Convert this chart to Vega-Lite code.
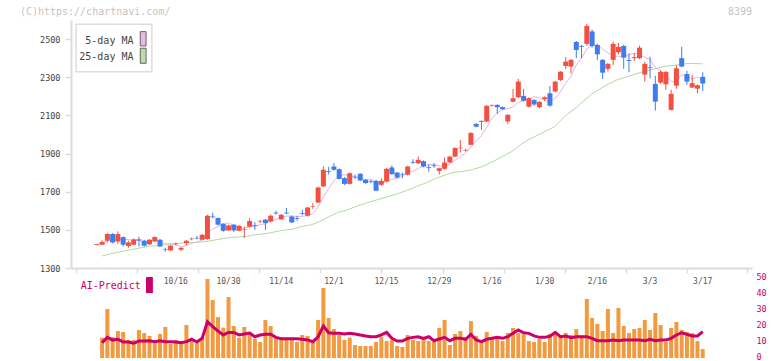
{
 "$schema": "https://vega.github.io/schema/vega-lite/v6.json",
 "autosize": {"type": "none"},
 "width": 681,
 "height": 338,
 "padding": {"left": 71, "top": 20, "right": 20, "bottom": 3},
 "background": "white",
 "config": {"view": {"stroke": null}, "font": "DejaVu Sans Mono"},
 "datasets": {
  "k": [
{"i":0,"o":1420,"h":1425,"l":1420,"c":1425},
{"i":1,"o":1422,"h":1446,"l":1422,"c":1436,"v":12.7,"ai":9.6,"m5":1427},
{"i":2,"o":1443,"h":1483,"l":1434,"c":1478,"v":30.6,"ai":12.9,"m5":1445},
{"i":3,"o":1478,"h":1483,"l":1429,"c":1434,"v":13.1,"ai":11.2,"m5":1448},
{"i":4,"o":1439,"h":1492,"l":1425,"c":1478,"v":16.9,"ai":11.7,"m5":1450},
{"i":5,"o":1462,"h":1466,"l":1413,"c":1422,"v":16.3,"ai":10,"m5":1450},
{"i":6,"o":1415,"h":1443,"l":1406,"c":1434,"v":11.3,"ai":10,"m5":1449},
{"i":7,"o":1422,"h":1455,"l":1420,"c":1450,"v":11.3,"ai":9.2,"m5":1444},
{"i":8,"o":1450,"h":1464,"l":1413,"c":1444,"v":17.5,"ai":10.6,"m5":1446},
{"i":9,"o":1443,"h":1448,"l":1413,"c":1417,"v":15.6,"ai":10.6,"m5":1433},
{"i":10,"o":1424,"h":1452,"l":1420,"c":1448,"v":13.8,"ai":10.8,"m5":1439},
{"i":11,"o":1440,"h":1466,"l":1436,"c":1462,"v":9.6,"ai":10.2,"m5":1444},
{"i":12,"o":1448,"h":1452,"l":1410,"c":1413,"v":15,"ai":10.8,"m5":1437},
{"i":13,"o":1399,"h":1406,"l":1385,"c":1396,"v":19.4,"ai":10.2,"m5":1427},
{"i":14,"o":1392,"h":1420,"l":1390,"c":1417,"v":8.8,"ai":10.2,"m5":1427},
{"i":15,"o":1425,"h":1434,"l":1418,"c":1428,"v":11.3,"ai":10,"m5":1423},
{"i":16,"o":1396,"h":1408,"l":1388,"c":1406,"v":10.2,"ai":9.6,"m5":1412},
{"i":17,"o":1431,"h":1446,"l":1420,"c":1443,"v":20.6,"ai":10.2,"m5":1418},
{"i":18,"o":1451,"h":1460,"l":1445,"c":1454,"v":11.3,"ai":11.7,"m5":1430},
{"i":19,"o":1458,"h":1468,"l":1450,"c":1455,"v":9.2,"ai":10,"m5":1437},
{"i":20,"o":1448,"h":1478,"l":1445,"c":1474,"v":12.7,"ai":12.3,"m5":1446},
{"i":21,"o":1452,"h":1578,"l":1448,"c":1574,"v":49.4,"ai":22.7,"m5":1480},
{"i":22,"o":1570,"h":1590,"l":1560,"c":1566,"v":36.3,"ai":19.6,"m5":1505},
{"i":23,"o":1562,"h":1565,"l":1524,"c":1527,"v":25.6,"ai":16.9,"m5":1519},
{"i":24,"o":1532,"h":1535,"l":1490,"c":1495,"v":19,"ai":14.4,"m5":1527},
{"i":25,"o":1497,"h":1527,"l":1494,"c":1523,"v":38.1,"ai":16,"m5":1537},
{"i":26,"o":1527,"h":1530,"l":1488,"c":1497,"v":20,"ai":16,"m5":1522},
{"i":27,"o":1495,"h":1525,"l":1492,"c":1521,"v":12.7,"ai":14.4,"m5":1513},
{"i":28,"o":1500,"h":1518,"l":1457,"c":1503,"v":19.4,"ai":15,"m5":1508},
{"i":29,"o":1516,"h":1560,"l":1512,"c":1546,"v":16.3,"ai":15.6,"m5":1518},
{"i":30,"o":1525,"h":1540,"l":1500,"c":1521,"v":11.9,"ai":13.3,"m5":1518},
{"i":31,"o":1544,"h":1552,"l":1536,"c":1547,"v":10,"ai":14.4,"m5":1528},
{"i":32,"o":1553,"h":1558,"l":1500,"c":1536,"v":23.8,"ai":14.8,"m5":1531},
{"i":33,"o":1544,"h":1580,"l":1540,"c":1574,"v":20,"ai":14.8,"m5":1545},
{"i":34,"o":1590,"h":1600,"l":1580,"c":1586,"v":13.1,"ai":12.9,"m5":1553},
{"i":35,"o":1555,"h":1584,"l":1552,"c":1579,"v":12.5,"ai":12.1,"m5":1564},
{"i":36,"o":1590,"h":1614,"l":1582,"c":1586,"v":12.5,"ai":12.1,"m5":1572},
{"i":37,"o":1570,"h":1574,"l":1536,"c":1539,"v":11.3,"ai":12.1,"m5":1573},
{"i":38,"o":1562,"h":1574,"l":1548,"c":1558,"v":10,"ai":12.1,"m5":1570},
{"i":39,"o":1588,"h":1605,"l":1576,"c":1584,"v":14.4,"ai":11.7,"m5":1569},
{"i":40,"o":1574,"h":1620,"l":1570,"c":1617,"v":13.8,"ai":11.3,"m5":1577},
{"i":41,"o":1620,"h":1640,"l":1610,"c":1623,"v":11.3,"ai":10.2,"m5":1584},
{"i":42,"o":1643,"h":1726,"l":1640,"c":1722,"v":23.8,"ai":13.3,"m5":1621},
{"i":43,"o":1728,"h":1832,"l":1724,"c":1815,"v":43.8,"ai":20,"m5":1672},
{"i":44,"o":1808,"h":1830,"l":1790,"c":1804,"v":25,"ai":15.8,"m5":1716},
{"i":45,"o":1832,"h":1849,"l":1810,"c":1815,"v":18.1,"ai":15.4,"m5":1756},
{"i":46,"o":1818,"h":1822,"l":1764,"c":1767,"v":14.4,"ai":15.4,"m5":1785},
{"i":47,"o":1771,"h":1776,"l":1735,"c":1741,"v":11.3,"ai":15,"m5":1788},
{"i":48,"o":1741,"h":1800,"l":1738,"c":1797,"v":12.7,"ai":15.4,"m5":1785},
{"i":49,"o":1778,"h":1790,"l":1765,"c":1775,"v":8.1,"ai":15,"m5":1779},
{"i":50,"o":1794,"h":1797,"l":1755,"c":1759,"v":7.5,"ai":14.4,"m5":1768},
{"i":51,"o":1762,"h":1765,"l":1742,"c":1745,"v":7.5,"ai":13.8,"m5":1763},
{"i":52,"o":1754,"h":1762,"l":1745,"c":1750,"v":7.5,"ai":13.3,"m5":1765},
{"i":53,"o":1757,"h":1762,"l":1703,"c":1705,"v":10,"ai":13.3,"m5":1747},
{"i":54,"o":1736,"h":1770,"l":1730,"c":1757,"v":13.3,"ai":14.4,"m5":1743},
{"i":55,"o":1753,"h":1825,"l":1748,"c":1820,"v":10.6,"ai":16,"m5":1755},
{"i":56,"o":1827,"h":1838,"l":1788,"c":1792,"v":11.3,"ai":12.3,"m5":1765},
{"i":57,"o":1800,"h":1804,"l":1770,"c":1774,"v":7.5,"ai":10.6,"m5":1770},
{"i":58,"o":1790,"h":1800,"l":1770,"c":1787,"v":6.9,"ai":10.6,"m5":1786},
{"i":59,"o":1789,"h":1836,"l":1785,"c":1832,"v":14.4,"ai":12.3,"m5":1801},
{"i":60,"o":1856,"h":1870,"l":1845,"c":1852,"v":11.3,"ai":12.9,"m5":1807},
{"i":61,"o":1849,"h":1885,"l":1845,"c":1867,"v":10.6,"ai":13.3,"m5":1822},
{"i":62,"o":1860,"h":1864,"l":1828,"c":1832,"v":11.9,"ai":12.3,"m5":1834},
{"i":63,"o":1828,"h":1845,"l":1805,"c":1824,"v":10.6,"ai":13.3,"m5":1841},
{"i":64,"o":1838,"h":1850,"l":1825,"c":1834,"v":10,"ai":10.8,"m5":1842},
{"i":65,"o":1809,"h":1826,"l":1790,"c":1823,"v":18.8,"ai":11.9,"m5":1836},
{"i":66,"o":1820,"h":1880,"l":1815,"c":1853,"v":23.8,"ai":12.9,"m5":1833},
{"i":67,"o":1853,"h":1888,"l":1850,"c":1884,"v":8.1,"ai":10.8,"m5":1844},
{"i":68,"o":1884,"h":1932,"l":1880,"c":1929,"v":15,"ai":12.3,"m5":1865},
{"i":69,"o":1928,"h":1971,"l":1905,"c":1931,"v":16.9,"ai":12.3,"m5":1884},
{"i":70,"o":1916,"h":1925,"l":1910,"c":1919,"v":12.9,"ai":11.7,"m5":1903},
{"i":71,"o":1946,"h":2012,"l":1942,"c":2008,"v":23.1,"ai":14.8,"m5":1934},
{"i":72,"o":2055,"h":2060,"l":2037,"c":2041,"v":13.8,"ai":11.3,"m5":1966},
{"i":73,"o":2066,"h":2074,"l":2024,"c":2071,"v":10.6,"ai":10.2,"m5":1994},
{"i":74,"o":2068,"h":2155,"l":2064,"c":2150,"v":16.3,"ai":11.7,"m5":2038},
{"i":75,"o":2150,"h":2158,"l":2145,"c":2153,"v":11.9,"ai":12.3,"m5":2085},
{"i":76,"o":2155,"h":2158,"l":2108,"c":2143,"v":11.9,"ai":12.9,"m5":2112},
{"i":77,"o":2143,"h":2146,"l":2128,"c":2133,"v":10.6,"ai":12.3,"m5":2130},
{"i":78,"o":2068,"h":2106,"l":2054,"c":2103,"v":15.6,"ai":13.3,"m5":2136},
{"i":79,"o":2172,"h":2239,"l":2168,"c":2190,"v":18.8,"ai":15.4,"m5":2144},
{"i":80,"o":2195,"h":2291,"l":2190,"c":2277,"v":15.6,"ai":17.5,"m5":2169},
{"i":81,"o":2202,"h":2239,"l":2172,"c":2177,"v":14.8,"ai":15.8,"m5":2176},
{"i":82,"o":2146,"h":2195,"l":2140,"c":2190,"v":10.6,"ai":15.4,"m5":2187},
{"i":83,"o":2181,"h":2185,"l":2150,"c":2157,"v":10,"ai":13.8,"m5":2198},
{"i":84,"o":2143,"h":2176,"l":2136,"c":2171,"v":11.9,"ai":12.9,"m5":2194},
{"i":85,"o":2185,"h":2200,"l":2175,"c":2195,"v":10,"ai":12.9,"m5":2178},
{"i":86,"o":2216,"h":2254,"l":2146,"c":2151,"v":15,"ai":13.6,"m5":2173},
{"i":87,"o":2225,"h":2282,"l":2220,"c":2277,"v":15,"ai":16,"m5":2190},
{"i":88,"o":2286,"h":2332,"l":2280,"c":2329,"v":13.5,"ai":13.3,"m5":2225},
{"i":89,"o":2359,"h":2406,"l":2342,"c":2382,"v":15.6,"ai":13.8,"m5":2267},
{"i":90,"o":2356,"h":2395,"l":2320,"c":2391,"v":14.4,"ai":12.7,"m5":2306},
{"i":91,"o":2485,"h":2490,"l":2400,"c":2443,"v":18.1,"ai":13.3,"m5":2364},
{"i":92,"o":2464,"h":2470,"l":2400,"c":2460,"v":14,"ai":13.3,"m5":2401},
{"i":93,"o":2475,"h":2580,"l":2465,"c":2569,"v":36.9,"ai":13.3,"m5":2449},
{"i":94,"o":2540,"h":2550,"l":2455,"c":2464,"v":25,"ai":12.3,"m5":2465},
{"i":95,"o":2469,"h":2475,"l":2390,"c":2420,"v":21.3,"ai":10.8,"m5":2471},
{"i":96,"o":2391,"h":2395,"l":2291,"c":2324,"v":16.9,"ai":10.8,"m5":2447},
{"i":97,"o":2344,"h":2375,"l":2330,"c":2370,"v":30.6,"ai":10.8,"m5":2429},
{"i":98,"o":2391,"h":2486,"l":2364,"c":2475,"v":15.6,"ai":11.3,"m5":2411},
{"i":99,"o":2431,"h":2480,"l":2420,"c":2459,"v":31.3,"ai":10.8,"m5":2410},
{"i":100,"o":2464,"h":2470,"l":2344,"c":2403,"v":20,"ai":11.3,"m5":2406},
{"i":101,"o":2390,"h":2426,"l":2326,"c":2385,"v":15.6,"ai":11.3,"m5":2418},
{"i":102,"o":2400,"h":2425,"l":2385,"c":2405,"v":18.1,"ai":11.3,"m5":2425},
{"i":103,"o":2400,"h":2465,"l":2395,"c":2455,"v":18.8,"ai":11.3,"m5":2421},
{"i":104,"o":2314,"h":2382,"l":2277,"c":2370,"v":23.8,"ai":10.8,"m5":2404},
{"i":105,"o":2352,"h":2407,"l":2294,"c":2348,"v":17.5,"ai":11.7,"m5":2393},
{"i":106,"o":2265,"h":2307,"l":2125,"c":2172,"v":28.1,"ai":10.8,"m5":2350},
{"i":107,"o":2272,"h":2335,"l":2265,"c":2328,"v":20.6,"ai":11.3,"m5":2335},
{"i":108,"o":2263,"h":2332,"l":2234,"c":2328,"v":10,"ai":11.3,"m5":2309},
{"i":109,"o":2129,"h":2234,"l":2125,"c":2213,"v":18.8,"ai":12.3,"m5":2278},
{"i":110,"o":2256,"h":2364,"l":2239,"c":2347,"v":22.5,"ai":14.4,"m5":2278},
{"i":111,"o":2400,"h":2459,"l":2352,"c":2356,"v":17.5,"ai":15.8,"m5":2314},
{"i":112,"o":2317,"h":2333,"l":2260,"c":2277,"v":16.3,"ai":14.8,"m5":2304},
{"i":113,"o":2246,"h":2312,"l":2244,"c":2269,"v":15.6,"ai":13.8,"m5":2292},
{"i":114,"o":2240,"h":2262,"l":2216,"c":2258,"v":10.6,"ai":13.8,"m5":2301},
{"i":115,"o":2302,"h":2326,"l":2228,"c":2267,"v":5.6,"ai":16.5,"m5":2285}
  ],
  "ma25": [
{"i":1,"m":1363},{"i":3.3,"m":1379},{"i":6.5,"m":1396},{"i":9.6,"m":1413},{"i":12.7,"m":1420},{"i":16.4,"m":1431},{"i":18.9,"m":1434},{"i":20.8,"m":1439},{"i":22.7,"m":1448},{"i":24.5,"m":1457},{"i":26.4,"m":1462},{"i":28.3,"m":1465},{"i":30.1,"m":1474},{"i":32.7,"m":1483},{"i":35.1,"m":1497},{"i":37,"m":1502},{"i":38.9,"m":1518},{"i":40.8,"m":1527},{"i":42.3,"m":1544},{"i":43.9,"m":1567},{"i":45.7,"m":1591},{"i":47.6,"m":1605},{"i":49.5,"m":1626},{"i":51.4,"m":1643},{"i":53.2,"m":1658},{"i":55.1,"m":1672},{"i":57,"m":1689},{"i":58.8,"m":1706},{"i":60.7,"m":1727},{"i":62.6,"m":1748},{"i":64.4,"m":1771},{"i":65.7,"m":1783},{"i":67.6,"m":1801},{"i":69.4,"m":1806},{"i":71.3,"m":1816},{"i":73.2,"m":1832},{"i":75,"m":1855},{"i":76.9,"m":1884},{"i":78.8,"m":1911},{"i":80.6,"m":1950},{"i":81.9,"m":1972},{"i":83.8,"m":1998},{"i":86.9,"m":2041},{"i":88.8,"m":2094},{"i":91.2,"m":2146},{"i":93.7,"m":2207},{"i":96.2,"m":2251},{"i":98.7,"m":2286},{"i":101.2,"m":2308},{"i":103.7,"m":2329},{"i":105.6,"m":2342},{"i":107.5,"m":2356},{"i":110,"m":2364},{"i":112.4,"m":2373},{"i":115,"m":2370}
  ],
  "lab": [
{"i":15,"t":"10/16"},{"i":25,"t":"10/30"},{"i":35,"t":"11/14"},{"i":45,"t":"12/1"},{"i":55,"t":"12/15"},{"i":65,"t":"12/29"},{"i":75,"t":"1/16"},{"i":85,"t":"1/30"},{"i":95,"t":"2/16"},{"i":105,"t":"3/3"},{"i":115,"t":"3/17"}
  ]
 },
 "layer": [
  {
   "layer": [
    {
     "data": {"name": "ma25"},
     "mark": {"type": "line", "color": "#b3daa3", "strokeWidth": 1},
     "encoding": {
      "x": {"field": "i", "type": "quantitative", "title": null,
            "scale": {"domain": [-3.95, 123.4], "nice": false, "zero": false},
            "axis": {"values": [-3.95, 7.65, 19.24, 30.84, 42.43, 54.03, 65.62, 77.22, 88.81, 100.4, 112.0, 123.4],
                     "labels": false, "offset": -90, "tickSize": 5, "domainColor": "#dcdcdc", "tickColor": "#dcdcdc",
                     "domainWidth": 2, "tickWidth": 1.5, "grid": false, "title": null}},
      "y": {"field": "m", "type": "quantitative", "title": null,
            "scale": {"domain": [1300, 2600], "range": [248, 0], "nice": false, "zero": false},
            "axis": {"values": [1300, 1500, 1700, 1900, 2100, 2300, 2500], "format": "d", "grid": false, "title": null,
                     "domainColor": "#dcdcdc", "domainWidth": 2, "tickColor": "#dcdcdc", "tickWidth": 1.5, "tickSize": 6,
                     "labelFontSize": 8.5, "labelColor": "#444444", "labelPadding": 5, "labelFont": "DejaVu Sans Mono"}}
     }
    },
    {
     "data": {"name": "k"},
     "mark": {"type": "line", "color": "#e6b3e6", "strokeWidth": 1},
     "encoding": {
      "x": {"field": "i", "type": "quantitative", "title": null},
      "y": {"field": "m5", "type": "quantitative", "title": null}
     }
    },
    {
     "data": {"name": "k"},
     "mark": {"type": "rule", "strokeWidth": 1},
     "encoding": {
      "x": {"field": "i", "type": "quantitative", "title": null},
      "y": {"field": "l", "type": "quantitative", "title": null},
      "y2": {"field": "h"},
      "color": {"condition": {"test": "datum.c >= datum.o", "value": "#f25141"}, "value": "#3f7cf0"}
     }
    },
    {
     "data": {"name": "k"},
     "mark": {"type": "bar", "size": 5},
     "encoding": {
      "x": {"field": "i", "type": "quantitative", "title": null},
      "y": {"field": "o", "type": "quantitative", "title": null},
      "y2": {"field": "c"},
      "color": {"condition": {"test": "datum.c >= datum.o", "value": "#f25141"}, "value": "#3f7cf0"}
     }
    },
    {
     "data": {"values": [{}]},
     "mark": {"type": "rect", "fill": "white", "stroke": "#dddddd", "strokeWidth": 1.5},
     "encoding": {"x": {"datum": -3.95}, "x2": {"datum": 10.45}, "y": {"datum": 2578}, "y2": {"datum": 2329}}
    },
    {
     "data": {"values": [{}]},
     "mark": {"type": "text", "text": "5-day MA", "align": "right", "baseline": "middle", "fontSize": 10, "color": "#444444"},
     "encoding": {"x": {"datum": 6.96}, "y": {"datum": 2492}}
    },
    {
     "data": {"values": [{}]},
     "mark": {"type": "text", "text": "25-day MA", "align": "right", "baseline": "middle", "fontSize": 10, "color": "#444444"},
     "encoding": {"x": {"datum": 6.96}, "y": {"datum": 2408}}
    },
    {
     "data": {"values": [{}]},
     "mark": {"type": "rect", "fill": "#ecb8ec", "stroke": "#666666", "strokeWidth": 1},
     "encoding": {"x": {"datum": 8.25}, "x2": {"datum": 9.35}, "y": {"datum": 2539}, "y2": {"datum": 2464}}
    },
    {
     "data": {"values": [{}]},
     "mark": {"type": "rect", "fill": "#bcdcac", "stroke": "#666666", "strokeWidth": 1},
     "encoding": {"x": {"datum": 8.25}, "x2": {"datum": 9.35}, "y": {"datum": 2452}, "y2": {"datum": 2373}}
    },
    {
     "data": {"values": [{}]},
     "mark": {"type": "text", "text": "8399", "align": "right", "baseline": "middle", "fontSize": 10, "color": "#c4c4c4"},
     "encoding": {"x": {"datum": 124.35}, "y": {"datum": 2642}}
    },
    {
     "data": {"values": [{}]},
     "mark": {"type": "text", "text": "(C)https://chartnavi.com/", "align": "left", "baseline": "middle", "fontSize": 10, "color": "#c4c4c4"},
     "encoding": {"x": {"datum": -14.6}, "y": {"datum": 2642}}
    }
   ]
  },
  {
   "layer": [
    {
     "data": {"name": "k"},
     "mark": {"type": "bar", "size": 4, "color": "#f29a40"},
     "encoding": {
      "x": {"field": "i", "type": "quantitative", "title": null},
      "y": {"field": "v", "type": "quantitative", "title": null,
            "scale": {"domain": [0, 50], "range": [338, 258], "nice": false, "zero": true},
            "axis": {"orient": "right", "values": [0, 10, 20, 30, 40, 50], "domain": false, "ticks": false, "grid": false,
                     "title": null, "labelColor": "#cc0066", "labelFontSize": 8.5, "labelOffset": -2, "labelPadding": 4, "labelFont": "DejaVu Sans Mono"}}
     }
    },
    {
     "data": {"name": "k"},
     "mark": {"type": "line", "color": "#cc0066", "strokeWidth": 3},
     "encoding": {
      "x": {"field": "i", "type": "quantitative", "title": null},
      "y": {"field": "ai", "type": "quantitative", "title": null}
     }
    },
    {
     "data": {"name": "lab"},
     "mark": {"type": "text", "fontSize": 8, "color": "#555555", "baseline": "middle"},
     "encoding": {
      "x": {"field": "i", "type": "quantitative", "title": null},
      "y": {"datum": 47.5},
      "text": {"field": "t"}
     }
    },
    {
     "data": {"values": [{}]},
     "mark": {"type": "text", "text": "AI-Predict", "align": "left", "baseline": "middle", "fontSize": 10, "color": "#cc0066"},
     "encoding": {"x": {"datum": -3.07}, "y": {"datum": 45.2}}
    },
    {
     "data": {"values": [{}]},
     "mark": {"type": "rect", "fill": "#cc0066"},
     "encoding": {"x": {"datum": 9.33}, "x2": {"datum": 10.64}, "y": {"datum": 50.6}, "y2": {"datum": 40.6}}
    }
   ]
  }
 ],
 "resolve": {"scale": {"y": "independent"}, "axis": {"y": "independent"}}
}
